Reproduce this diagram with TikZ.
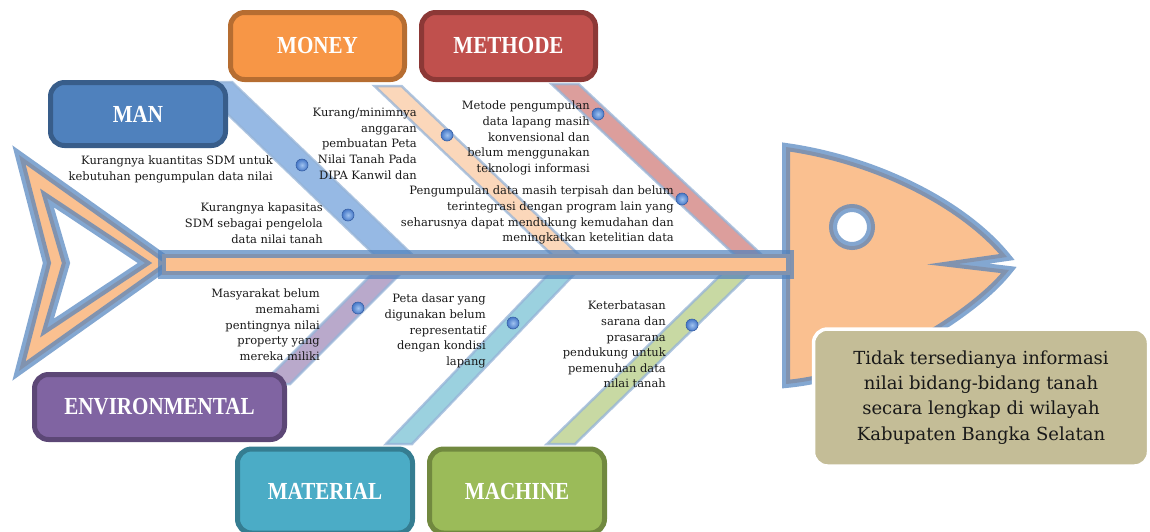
\documentclass[tikz,border=0pt]{standalone}
\usepackage{fontspec}
\setmainfont{DejaVu Serif}
\newfontfamily\titlefont[FakeStretch=0.86]{Liberation Serif}

\definecolor{fishorange}{HTML}{FAC090}
\definecolor{fishblue}{HTML}{4F81BD}
\definecolor{bonerim}{HTML}{95B3D7}
\definecolor{knobblue}{RGB}{70,120,200}
\definecolor{knobhi}{RGB}{160,195,240}
\definecolor{knobrim}{RGB}{55,95,165}
\definecolor{manfill}{HTML}{4F81BD}\definecolor{manrim}{HTML}{385D8A}\definecolor{manbone}{HTML}{8DB3E2}
\definecolor{moneyfill}{HTML}{F79646}\definecolor{moneyrim}{HTML}{B66D31}\definecolor{moneybone}{HTML}{FBD4B4}
\definecolor{methfill}{HTML}{C0504D}\definecolor{methrim}{HTML}{8C3836}\definecolor{methbone}{HTML}{D99694}
\definecolor{envfill}{HTML}{8064A2}\definecolor{envrim}{HTML}{5C4776}\definecolor{envbone}{HTML}{B3A2C7}
\definecolor{matfill}{HTML}{4BACC6}\definecolor{matrim}{HTML}{357D91}\definecolor{matbone}{HTML}{92CDDC}
\definecolor{machfill}{HTML}{9BBB59}\definecolor{machrim}{HTML}{71893F}\definecolor{machbone}{HTML}{C3D69B}
\definecolor{resultfill}{HTML}{C4BD97}

\tikzset{
  fishline/.style={draw=fishblue, draw opacity=0.7, line width=8pt, fill=fishorange, line join=miter},
  bonebox/.style={draw=bonerim, draw opacity=0.75, line width=2.5pt, fill opacity=0.92},
  catbox/.style={rounded corners=14pt, line width=5pt, inner sep=0pt, text=white,
    font=\titlefont\bfseries\fontsize{24.5}{24.5}\selectfont},
  note/.style={font=\fontsize{11.5}{15.6}\selectfont, align=right, anchor=north east,
    inner sep=0pt, text=black!90},
  knob/.style={circle, inner sep=0pt, minimum size=12pt, shading=radial,
    inner color=knobhi, outer color=knobblue, draw=knobrim, line width=0.6pt},
  resultbox/.style={rounded corners=14pt, fill=resultfill, draw=white, line width=3.5pt,
    minimum width=335pt, minimum height=137pt, align=center,
    font=\fontsize{18}{25.3}\selectfont, text=black!90}
}

\begin{document}
\begin{tikzpicture}[x=1pt, y=-1pt]
\useasboundingbox (0,0) rectangle (1150,531);

% bones, drawn below the spine
\draw[bonebox, fill=manbone]   (194,82) -- (232,82) -- (420,262) -- (382,262) -- cycle;
\draw[bonebox, fill=moneybone] (374.5,86) -- (401.5,86) -- (586.5,262) -- (559.5,262) -- cycle;
\draw[bonebox, fill=methbone]  (551.5,84) -- (578.5,84) -- (769.5,262) -- (742.5,262) -- cycle;
\draw[bonebox, fill=envbone]   (384,262) -- (412,262) -- (290,384) -- (262,384) -- cycle;
\draw[bonebox, fill=matbone]   (560,262) -- (586,262) -- (412,444) -- (386,444) -- cycle;
\draw[bonebox, fill=machbone]  (734,262) -- (762,262) -- (575,444) -- (547,444) -- cycle;

% tail
\draw[fishline, even odd rule]
  (19,155) -- (171,263) -- (19,371) -- (47,263) -- cycle
  (47,198) -- (145,263) -- (47,328) -- (66,263) -- cycle;

% head and eye
\draw[fishline] (786,147) .. controls (878,160) and (965,205) .. (1007,257)
  -- (958,264) -- (1009,270) .. controls (978,310) and (882,375) .. (786,384) -- cycle;
\draw[fishline, fill=white] (852,227) circle (19pt);

% spine
\draw[fishline] (162,254) rectangle (790,275);

% category boxes
\node[catbox, fill=manfill, draw=manrim, minimum width=175pt, minimum height=63pt] (man) at (138,114) {MAN};
\node[catbox, fill=moneyfill, draw=moneyrim, minimum width=174pt, minimum height=67pt] (money) at (317.5,46) {MONEY};
\node[catbox, fill=methfill, draw=methrim, minimum width=174pt, minimum height=67pt] (methode) at (508.5,46) {METHODE};
\node[catbox, fill=envfill, draw=envrim, minimum width=250pt, minimum height=65pt] (env) at (159.5,407) {ENVIRONMENTAL};
\node[catbox, fill=matfill, draw=matrim, minimum width=175pt, minimum height=84pt] (material) at (325,491) {MATERIAL};
\node[catbox, fill=machfill, draw=machrim, minimum width=175pt, minimum height=84pt] (machine) at (517,491) {MACHINE};

% causes
\node[note] (man-a) at (273,156) {Kurangnya kuantitas SDM untuk\\kebutuhan pengumpulan data nilai};
\node[note] (man-b) at (323,203) {Kurangnya kapasitas\\SDM sebagai pengelola\\data nilai tanah};
\node[note] (money-a) at (417,108) {Kurang/minimnya\\anggaran\\pembuatan Peta\\Nilai Tanah Pada\\DIPA Kanwil dan};
\node[note] (meth-a) at (590,101) {Metode pengumpulan\\data lapang masih\\konvensional dan\\belum menggunakan\\teknologi informasi};
\node[note] (meth-b) at (674,186) {Pengumpulan data masih terpisah dan belum\\terintegrasi dengan program lain yang\\seharusnya dapat mendukung kemudahan dan\\meningkatkan ketelitian data};
\node[note] (env-a) at (320,289) {Masyarakat belum\\memahami\\pentingnya nilai\\property yang\\mereka miliki};
\node[note] (mat-a) at (486,294) {Peta dasar yang\\digunakan belum\\representatif\\dengan kondisi\\lapang};
\node[note] (mach-a) at (666,301) {Keterbatasan\\sarana dan\\prasarana\\pendukung untuk\\pemenuhan data\\nilai tanah};

% knobs on the bones
\node[knob] (k1) at (302,165) {};
\node[knob] (k2) at (348,215) {};
\node[knob] (k3) at (447,135) {};
\node[knob] (k4) at (598,114) {};
\node[knob] (k5) at (682,199) {};
\node[knob] (k6) at (358,308) {};
\node[knob] (k7) at (513,323) {};
\node[knob] (k8) at (692,325) {};

% effect
\node[resultbox] (result) at (981,397.5) {Tidak tersedianya informasi\\nilai bidang-bidang tanah\\secara lengkap di wilayah\\Kabupaten Bangka Selatan};
\end{tikzpicture}
\end{document}
